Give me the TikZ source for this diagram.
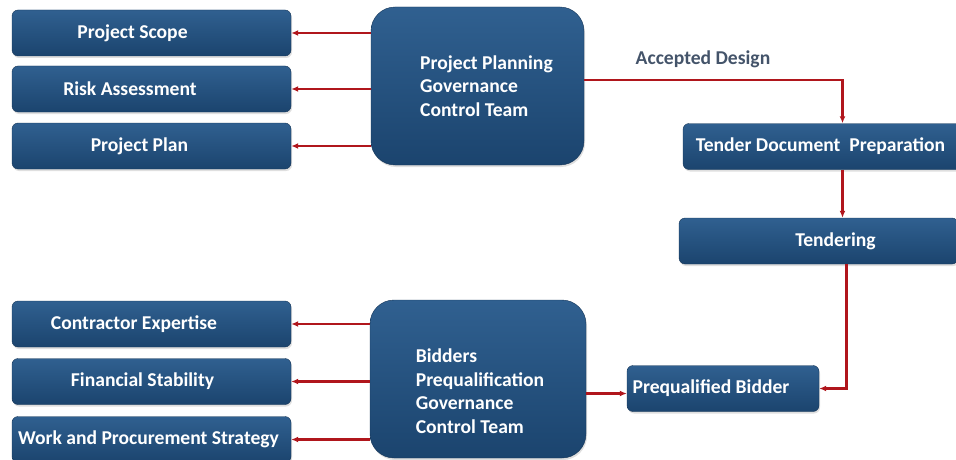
\documentclass[tikz,border=0pt]{standalone}
\usepackage{fontspec}
\setmainfont{Carlito}
\usetikzlibrary{arrows.meta}
\usetikzlibrary{shadows}
\usetikzlibrary{positioning}
\definecolor{BoxTop}{RGB}{48,96,144}
\definecolor{BoxBottom}{RGB}{27,68,110}
\definecolor{LinkRed}{RGB}{176,22,28}
\definecolor{CaptionGray}{RGB}{68,84,106}

\begin{document}
\begin{tikzpicture}[x=1pt, y=-1pt, >={Latex[length=7pt,width=6pt]},
	box/.style={rectangle, rounded corners=6pt, top color=BoxTop, bottom color=BoxBottom,
		draw=BoxBottom!80!black, line width=0.4pt, text=white,
		font=\fontsize{19.6}{23.8}\selectfont\bfseries,
		drop shadow={opacity=0.25, shadow xshift=1pt, shadow yshift=-2pt},
		minimum width=279pt, minimum height=46pt, inner sep=0pt},
	teambox/.style={box, rounded corners=24pt, align=left},
	link/.style={->, draw=LinkRed, line width=2.4pt}]
	\useasboundingbox (0,0) rectangle (956,460);
	%%%%%%%%%%%%%%%%%%%%%%%%%%%%%%%%%%%%%%%%%%%%%%%%%%%%%%%%%%
	% planning side
	\node[box] (scope) at (151.5,33) {\hspace*{-38pt}Project Scope};
	\node[box] (risk) at (151.5,89) {\hspace*{-43pt}Risk Assessment};
	\node[box] (plan) at (151.5,146) {\hspace*{-24pt}Project Plan};
	\node[teambox, minimum width=213pt, minimum height=158pt] (ppgct) at (477.5,86)
		{\hspace*{18pt}Project Planning\\\hspace*{18pt}Governance\\\hspace*{18pt}Control Team};
	%%%%%%%%%%%%%%%%%%%%%%%%%%%%%%%%%%%%%%%%%%%%%%%%%%%%%%%%%%
	% tender chain
	\node[box] (tender) at (822.5,146.5) {\hspace*{-4pt}Tender Document~~Preparation};
	\node[box] (tendering) at (818.5,241) {\hspace*{34pt}Tendering};
	\node[box, minimum width=192pt] (prebid) at (723,388.5) {\hspace*{-24pt}Prequalified Bidder};
	%%%%%%%%%%%%%%%%%%%%%%%%%%%%%%%%%%%%%%%%%%%%%%%%%%%%%%%%%%
	% bidders side
	\node[box] (expertise) at (151.5,324) {\hspace*{-35pt}Contractor Expertise};
	\node[box] (stability) at (151.5,381.5) {\hspace*{-18pt}Financial Stability};
	\node[box] (strategy) at (151.5,439.5) {\hspace*{-6pt}Work and Procurement Strategy};
	\node[teambox, minimum width=216pt, minimum height=158pt] (bpgct) at (478,379)
		{\rule{0pt}{38pt}\hspace*{4pt}Bidders\\\hspace*{4pt}Prequalification\\\hspace*{4pt}Governance\\\hspace*{4pt}Control Team};
	
	% caption over the design link
	\node[text=CaptionGray, font=\fontsize{19.6}{23}\selectfont\bfseries] (accepted) at (703,59) {Accepted Design};
	\coordinate (designout) at ([yshift=6pt]ppgct.east);
	\coordinate (designin) at ([xshift=20pt]tender.north);
	
	% planning outputs
	\draw[link] (ppgct.west |- scope.east) -- (scope.east);
	\draw[link] (ppgct.west |- risk.east) -- (risk.east);
	\draw[link] (ppgct.west |- plan.east) -- (plan.east);
	
	% design down to tendering
	\draw[link] (designout) -| (designin);
	\draw[link] (tender.south -| designin) -- (tendering.north -| designin);
	\draw[link] ([xshift=28pt]tendering.south) |- (prebid.east);
	
	% bidders outputs
	\draw[link] (bpgct.west |- expertise.east) -- (expertise.east);
	\draw[link] (bpgct.west |- stability.east) -- (stability.east);
	\draw[link] (bpgct.west |- strategy.east) -- (strategy.east);
	\draw[link] ([yshift=-5pt]bpgct.east |- prebid.west) -- ([yshift=-5pt]prebid.west);
	
\end{tikzpicture}
\end{document}
